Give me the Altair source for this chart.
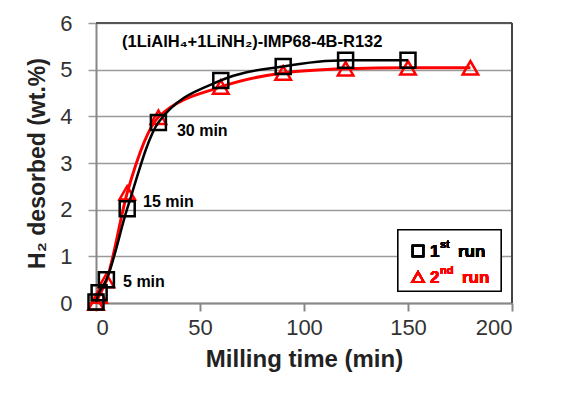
import altair as alt
import pandas as pd

FONT = "Liberation Sans, Arial, sans-serif"

# 1st run (black squares)
run1_time = [0, 1.5, 5, 15, 30, 60, 90, 120, 150]
run1_h2 = [0.02, 0.22, 0.5, 2.02, 3.87, 4.77, 5.07, 5.2, 5.2]
# 2nd run (red triangles)
run2_time = [0, 1.5, 5, 15, 30, 60, 90, 120, 150, 180]
run2_h2 = [0.0, 0.15, 0.48, 2.36, 3.98, 4.63, 4.93, 5.02, 5.04, 5.04]

# annotations (data coordinates)
ann_text = ["5 min", "15 min", "30 min"]
ann_x = [13.0, 22.6, 38.9]
ann_y = [0.46, 2.17, 3.69]
title_text = ["(1LiAlH\u2084+1LiNH\u2082)-IMP68-4B-R132"]
title_x = [12.5]
title_y = [5.6]

W, H = 416, 280

d1 = pd.DataFrame({"t": run1_time, "h": run1_h2})
d2 = pd.DataFrame({"t": run2_time, "h": run2_h2})
dann = pd.DataFrame({"t": ann_x, "h": ann_y, "label": ann_text})
dtitle = pd.DataFrame({"t": title_x, "h": title_y, "label": title_text})

xs = alt.Scale(domain=[0, 200], nice=False)
ys = alt.Scale(domain=[0, 6], nice=False)

xax = alt.Axis(values=[0, 50, 100, 150, 200], title="Milling time (min)", grid=False,
               tickSize=8, tickColor="#888888", tickWidth=2, domainColor="#888888", domainWidth=2,
               labelFont=FONT, labelFontSize=22, labelColor="#333333", labelPadding=6,
               titleFont=FONT, titleFontSize=24, titleFontWeight="bold", titleColor="#222222",
               titlePadding=9)
yax = alt.Axis(values=[0, 1, 2, 3, 4, 5, 6], title="H\u2082 desorbed  (wt.%)", grid=True,
               gridColor="#9a9a9a", gridWidth=1.5,
               tickSize=8, tickColor="#9a9a9a", tickWidth=1.5, domainColor="#888888", domainWidth=2,
               labelFont=FONT, labelFontSize=22, labelColor="#333333", labelPadding=16,
               titleFont=FONT, titleFontSize=23, titleFontWeight="bold", titleColor="#222222",
               titlePadding=10)

base_x = alt.X("t:Q", scale=xs, axis=xax)
base_y = alt.Y("h:Q", scale=ys, axis=yax)

line2 = alt.Chart(d2).mark_line(color="#ff0000", strokeWidth=3, interpolate="monotone").encode(
    x=base_x, y=base_y)
pts2 = alt.Chart(d2).mark_point(shape="triangle-up", size=240, color="#ff0000", strokeWidth=2.5,
                                filled=False, opacity=1).encode(x="t:Q", y="h:Q")
line1 = alt.Chart(d1).mark_line(color="#000000", strokeWidth=2.5, interpolate="monotone").encode(
    x="t:Q", y="h:Q")
pts1 = alt.Chart(d1).mark_point(shape="square", size=225, color="#000000", strokeWidth=2.5,
                                filled=False, opacity=1).encode(x="t:Q", y="h:Q")

ann = alt.Chart(dann).mark_text(align="left", baseline="middle", font=FONT, fontSize=16,
                                fontWeight="bold", color="#000000").encode(
    x="t:Q", y="h:Q", text="label:N")
ttl = alt.Chart(dtitle).mark_text(align="left", baseline="middle", font=FONT, fontSize=16.5,
                                  fontWeight="bold", color="#000000").encode(
    x="t:Q", y="h:Q", text="label:N")

# plot frame (top and right borders)
top_border = alt.Chart(d1).mark_rule(color="#555555", strokeWidth=2).encode(
    x=alt.value(0), x2=alt.value(W), y=alt.value(0))
right_border = alt.Chart(d1).mark_rule(color="#444444", strokeWidth=2).encode(
    x=alt.value(W), y=alt.value(0), y2=alt.value(H))

# legend (manual)
leg_box = alt.Chart(d1).mark_rect(fill="white", stroke="black", strokeWidth=1.2).encode(
    x=alt.value(302), x2=alt.value(405), y=alt.value(207), y2=alt.value(268))
leg_sq = alt.Chart(d1).mark_point(shape="square", size=110, color="black", strokeWidth=2,
                                  filled=False, opacity=1).encode(x=alt.value(322), y=alt.value(228))
leg_tri = alt.Chart(d1).mark_point(shape="triangle-up", size=130, color="#ff0000", strokeWidth=2,
                                   filled=False, opacity=1).encode(x=alt.value(322), y=alt.value(254))


def ltext(txt, x, y, size, color, baseline="middle"):
    return alt.Chart(d1).mark_text(text=txt, align="left", baseline=baseline, font=FONT,
                                   fontSize=size, fontWeight="bold", color=color).encode(
        x=alt.value(x), y=alt.value(y))


legend = [
    leg_box, leg_sq, leg_tri,
    ltext("1", 334, 229, 17, "black"),
    ltext("st", 344, 222, 11, "black"),
    ltext("run", 362, 229, 17, "black"),
    ltext("2", 334, 255, 17, "#ff0000"),
    ltext("nd", 344, 248, 11, "#ff0000"),
    ltext("run", 366, 255, 17, "#ff0000"),
]

chart = alt.layer(line2, pts2, line1, pts1, ann, ttl, top_border, right_border, *legend).properties(
    width=W, height=H,
    autosize=alt.AutoSizeParams(type="none"),
    padding={"left": 88, "top": 15, "right": 46, "bottom": 80},
).configure_view(stroke=None).configure(background="white")

chart.save("out.html", embed_options={"renderer": "svg", "actions": False})
